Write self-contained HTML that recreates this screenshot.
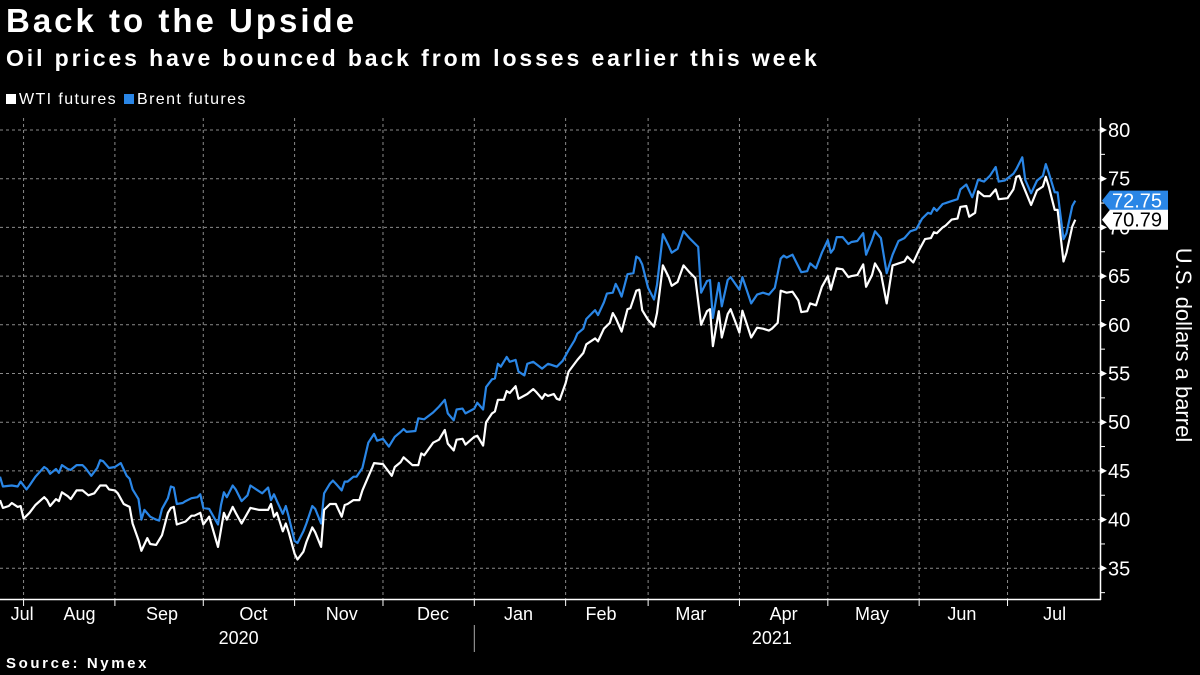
<!DOCTYPE html>
<html><head><meta charset="utf-8">
<style>
html,body{margin:0;padding:0;background:#000;}
body{width:1200px;height:675px;overflow:hidden;position:relative;font-family:"Liberation Sans",sans-serif;color:#fff;}
.t{position:absolute;white-space:nowrap;}
</style></head>
<body>
<div class="t" style="left:6px;top:2px;font-size:33px;font-weight:bold;letter-spacing:3px;">Back to the Upside</div>
<div class="t" style="left:6px;top:45px;font-size:23px;font-weight:bold;letter-spacing:2.9px;">Oil prices have bounced back from losses earlier this week</div>
<div class="t" style="left:6px;top:91px;font-size:16px;letter-spacing:1.4px;"><span style="display:inline-block;width:10px;height:10px;background:#fff;margin-right:3px;"></span>WTI futures</div>
<div class="t" style="left:124px;top:91px;font-size:16px;letter-spacing:1.4px;"><span style="display:inline-block;width:10px;height:10px;background:#2a86e6;margin-right:3px;"></span>Brent futures</div>
<div class="t" style="left:6px;top:655px;font-size:15px;font-weight:bold;letter-spacing:2.6px;">Source: Nymex</div>
<svg id="chart" width="1200" height="675" style="position:absolute;left:0;top:0;" xmlns="http://www.w3.org/2000/svg"></svg>
<script>
const yTicks=[35,40,45,50,55,60,65,70,75,80];
const monthBoundaryDays=[8,39,69,100,130,161,192,220,251,281,312,342];
const monthLabels=["Jul","Aug","Sep","Oct","Nov","Dec","Jan","Feb","Mar","Apr","May","Jun","Jul"];
const monthLabelDays=[7.5,27,55,86,116,147,176,204,234.5,266,296,326.5,358];
const yearLabels=["2020","2021"];
const yearLabelDays=[81,262];
const brentDays=[0,1,4,6,7,9,10,12,15,16,17,19,20,21,23,24,26,28,29,31,33,34,35,37,39,41,43,44,45,47,48,49,51,53,54,55,57,58,59,60,62,63,65,67,68,69,71,74,75,76,77,79,80,82,84,85,86,89,91,92,93,94,96,97,98,100,101,103,104,106,107,109,110,112,113,114,116,117,118,120,121,123,125,127,128,130,132,134,136,137,138,141,142,144,147,149,151,152,154,155,157,158,161,162,164,165,167,168,169,170,172,173,175,176,178,179,181,184,186,187,189,191,193,195,196,198,199,201,202,203,205,206,208,209,210,211,213,215,216,217,218,220,222,223,225,227,228,230,232,234,237,238,240,241,242,244,245,247,248,251,252,255,257,259,261,263,265,266,267,269,272,274,275,277,279,281,282,283,284,286,288,289,291,293,294,296,297,299,301,303,305,307,309,311,313,315,316,317,318,320,321,323,325,326,328,330,331,332,334,336,338,339,341,344,345,347,348,350,352,354,355,356,358,359,361,362,364,365];
const brentVals=[44.4,43.4,43.5,43.4,43.9,43.1,43.5,44.4,45.4,45.2,44.7,45.2,44.8,45.6,45.2,45.1,45.6,45.6,45.3,44.5,45.3,46.1,46.0,45.3,45.4,45.8,44.5,44.2,43.1,42.1,40.0,41.0,40.3,40.0,39.9,41.1,42.2,43.4,43.3,41.6,41.7,41.9,42.2,42.3,42.6,41.2,41.1,39.5,41.5,42.8,42.3,43.5,43.1,41.9,42.5,43.5,43.3,42.7,43.3,42.0,42.6,41.9,40.6,41.4,40.3,37.8,37.6,38.8,39.6,41.4,41.1,39.6,42.7,43.7,44.0,43.7,43.0,43.9,43.9,44.4,44.4,45.3,47.9,48.8,48.1,48.3,47.5,48.5,49.0,49.3,49.0,49.1,50.4,50.3,51.0,51.6,52.3,50.9,50.2,51.3,51.4,50.9,51.4,52.0,51.3,53.6,54.4,54.5,56.0,55.7,56.7,56.2,56.4,55.2,54.8,56.0,56.2,55.5,56.0,55.9,55.7,56.3,57.4,58.4,59.1,59.6,60.6,61.2,61.5,61.0,62.3,63.2,63.3,64.2,63.6,62.9,65.2,65.3,67.0,66.8,66.2,63.8,62.6,64.1,69.3,68.1,67.4,67.8,69.6,68.9,68.0,63.3,64.5,64.6,60.7,64.3,61.9,64.6,64.9,63.6,64.9,62.2,63.1,63.3,63.1,63.8,66.8,67.1,66.9,67.2,65.4,65.5,66.3,65.8,67.4,68.7,67.4,67.8,69.0,69.0,68.3,68.5,68.6,69.4,67.2,68.7,69.6,68.9,65.3,67.2,68.6,68.9,69.6,69.8,70.9,71.5,71.4,72.0,71.7,72.4,72.5,72.7,72.9,73.9,74.4,73.1,73.9,74.9,74.7,75.3,76.2,74.7,74.8,75.5,76.0,77.2,74.9,73.5,74.8,75.3,76.5,75.6,73.6,73.6,68.8,69.4,72.2,72.75];
const wtiDays=[0,1,3,4,6,7,8,10,12,15,16,17,19,20,21,23,24,26,28,30,32,34,36,37,39,40,42,44,45,47,48,50,51,53,55,57,58,59,60,63,65,66,68,69,71,74,76,77,79,80,82,85,88,91,92,93,94,96,97,98,100,101,103,104,106,107,109,110,112,114,116,117,118,120,122,123,126,127,130,131,133,134,136,137,140,142,143,144,147,149,151,152,154,155,157,158,161,162,164,165,167,168,169,171,172,173,175,176,179,181,182,184,185,186,188,189,190,192,193,196,198,199,201,202,203,205,207,208,209,211,213,214,216,217,218,220,222,223,225,227,228,230,232,234,236,238,240,241,242,244,245,247,248,251,252,255,257,259,261,262,264,265,267,269,271,272,274,275,277,279,281,282,283,284,286,288,289,291,293,294,296,297,299,301,303,305,307,308,310,312,314,316,317,318,320,321,323,325,326,328,329,331,332,334,336,338,339,342,344,345,346,347,350,352,354,355,356,358,359,361,362,364,365];
const wtiVals=[42.0,41.2,41.4,41.7,41.3,41.4,40.1,40.7,41.5,42.3,42.0,41.4,42.1,41.9,42.8,42.4,42.1,43.0,43.0,42.5,42.7,43.5,43.5,43.1,43.0,42.7,41.6,41.3,39.6,37.9,36.8,38.1,37.5,37.4,38.4,40.7,41.2,41.3,39.5,39.8,40.4,40.4,40.7,39.5,40.3,37.2,40.7,40.0,41.3,40.7,39.6,41.2,41.0,41.0,41.6,40.3,40.7,38.8,39.6,38.7,36.5,35.9,36.7,37.7,39.2,38.7,37.2,41.0,41.6,41.6,40.3,41.5,41.6,42.0,42.0,43.0,45.1,45.8,45.7,45.3,44.5,45.4,45.9,46.4,45.6,45.6,46.8,46.6,47.9,48.2,49.2,47.8,47.1,48.2,48.3,47.7,48.5,48.6,47.6,50.0,50.9,51.1,52.3,52.3,53.2,53.0,53.7,52.4,52.9,53.4,53.1,52.4,52.9,52.7,52.9,52.4,52.3,54.0,55.2,56.4,57.1,58.0,58.4,58.6,58.3,59.6,60.2,61.2,60.7,59.3,61.6,61.7,63.5,63.6,61.5,60.5,59.8,61.2,66.1,64.9,64.0,64.4,66.1,65.4,64.8,60.0,61.4,61.6,57.8,61.4,58.7,61.1,61.6,59.2,61.45,58.7,59.7,59.6,59.4,59.6,60.2,63.5,63.3,63.4,62.5,61.3,61.4,62.2,62.0,63.9,65.0,63.6,64.7,65.8,65.7,64.9,65.0,65.1,66.2,63.9,65.1,66.3,65.3,62.2,66.1,66.3,66.5,67.0,66.4,67.7,68.8,68.9,69.5,69.4,70.0,70.2,70.8,70.9,72.1,72.2,71.1,71.5,73.7,73.2,73.2,73.9,72.9,73.0,73.9,75.2,75.3,74.5,72.3,73.8,74.2,75.2,74.2,71.8,71.8,66.5,67.4,70.1,70.79];
const lastBrent="72.75", lastWti="70.79";

const NS="http://www.w3.org/2000/svg";
const svg=document.getElementById('chart');
const X0=0, PX_PER_DAY=2.946, AXIS_X=1100;
const xS=d=>X0+d*PX_PER_DAY;
const yS=v=>130+(80-v)*9.74;
function mk(tag,attrs,parent){const e=document.createElementNS(NS,tag);for(const k in attrs)e.setAttribute(k,attrs[k]);(parent||svg).appendChild(e);return e;}

yTicks.forEach(v=>{
  const g=mk('line',{x1:0,x2:AXIS_X,y1:yS(v),y2:yS(v),stroke:'#8a8a8a','stroke-width':1,'stroke-dasharray':'3,3'});
  
  
  const tk=mk('path',{d:`M${AXIS_X+1} ${yS(v)-3} L${AXIS_X+7} ${yS(v)} L${AXIS_X+1} ${yS(v)+3} Z`,fill:'#fff'});
  
  
  const mt=mk('line',{x1:AXIS_X,x2:AXIS_X+5,y1:yS(v-2.5),y2:yS(v-2.5),stroke:'#fff','stroke-width':1});
  
  
  const t=mk('text',{x:AXIS_X+8,y:yS(v)+7,fill:'#fff','font-size':20,'font-family':'Liberation Sans, sans-serif'});
  t.textContent=v;
  
  
});
monthBoundaryDays.forEach(d=>{
  const g=mk('line',{x1:xS(d),x2:xS(d),y1:118,y2:599,stroke:'#8a8a8a','stroke-width':1,'stroke-dasharray':'3,3'});
  
  
  const tk=mk('line',{x1:xS(d),x2:xS(d),y1:599,y2:606,stroke:'#fff','stroke-width':1});
  
  
});
const xa=mk('line',{x1:0,x2:AXIS_X+1,y1:599.5,y2:599.5,stroke:'#fff','stroke-width':1.5});


const ya=mk('line',{x1:AXIS_X+0.5,x2:AXIS_X+0.5,y1:118,y2:600,stroke:'#fff','stroke-width':1.5});


monthLabels.forEach((m,i)=>{
  const t=mk('text',{x:xS(monthLabelDays[i]),y:620,fill:'#fff','font-size':18,'text-anchor':'middle','font-family':'Liberation Sans, sans-serif'});
  t.textContent=m;
  
  
});
yearLabels.forEach((m,i)=>{
  const t=mk('text',{x:xS(yearLabelDays[i]),y:644,fill:'#fff','font-size':18,'text-anchor':'middle','font-family':'Liberation Sans, sans-serif'});
  t.textContent=m;
  
  
});
const sep=mk('line',{x1:xS(161),x2:xS(161),y1:625,y2:652,stroke:'#aaa','stroke-width':1});


const yt=mk('text',{x:0,y:0,fill:'#fff','font-size':22,'text-anchor':'middle','font-family':'Liberation Sans, sans-serif',transform:'translate(1176,345) rotate(90)'});
yt.textContent='U.S. dollars a barrel';



function line(days,vals,color,name){
  const d=days.map((dd,i)=>(i?'L':'M')+xS(dd).toFixed(1)+' '+yS(vals[i]).toFixed(1)).join(' ');
  const p=mk('path',{d:d,fill:'none',stroke:color,'stroke-width':2.2,'stroke-linejoin':'round'});
  
  
}
line(brentDays,brentVals,'#2a86e6','brent-line');
line(wtiDays,wtiVals,'#ffffff','wti-line');

function tag(val,label,bg,fg,name){
  const y=yS(val);
  const g=mk('g',{});
  
  
  mk('path',{d:`M${AXIS_X+2} ${y} L${AXIS_X+10} ${y-10} L1168 ${y-10} L1168 ${y+10} L${AXIS_X+10} ${y+10} Z`,fill:bg},g);
  const t=mk('text',{x:AXIS_X+12,y:y+7,fill:fg,'font-size':20,'font-family':'Liberation Sans, sans-serif'},g);
  t.textContent=label;
}
tag(+lastBrent,lastBrent,'#2a86e6','#fff','brent-last-value-tag');
tag(+lastWti,lastWti,'#fff','#000','wti-last-value-tag');
</script>
</body></html>
